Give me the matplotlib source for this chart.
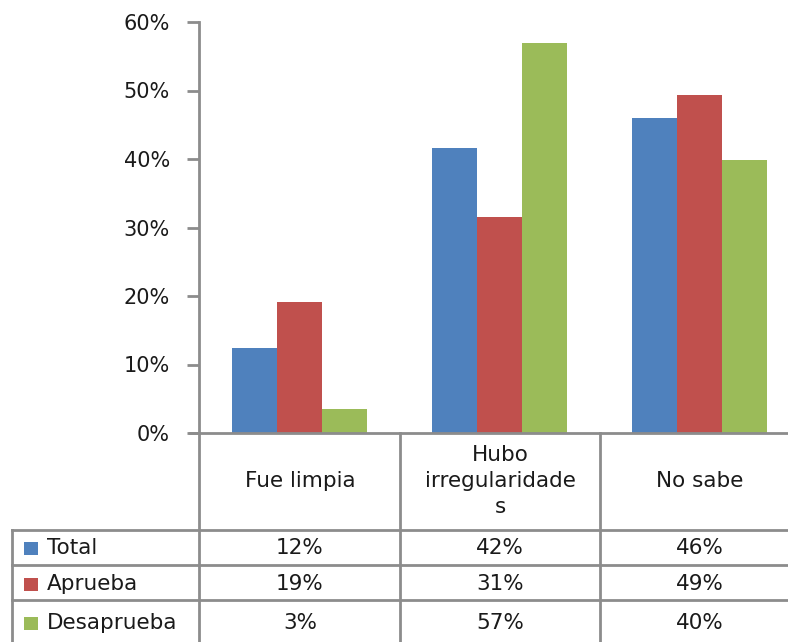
import matplotlib.pyplot as plt
import numpy as np

plt.rcParams['font.family'] = ['DejaVu Sans']

categories = ['Fue limpia', 'Hubo\nirregularidade\ns', 'No sabe']
series = ['Total', 'Aprueba', 'Desaprueba']
total = [0.124, 0.416, 0.460]
aprueba = [0.191, 0.315, 0.493]
desaprueba = [0.035, 0.569, 0.399]
table_labels = [['12%', '42%', '46%'],
                ['19%', '31%', '49%'],
                ['3%', '57%', '40%']]
yticks = [0, 0.1, 0.2, 0.3, 0.4, 0.5, 0.6]

colors = ['#4F81BD', '#C0504D', '#9BBB59']
grey = '#8C8C8C'
txt = '#1a1a1a'
fs = 15.5

W, H = 788, 642
fig = plt.figure(figsize=(W / 100, H / 100), dpi=100)

# pixel helpers
def fx(px):
    return px / W

def fy(py):
    return 1 - py / H

x_left, x_right = 199, 788
y_zero, y_top = 433, 22
cat_w = 200.0

ax = fig.add_axes([fx(x_left), fy(y_zero), fx(x_right - x_left), (y_zero - y_top) / H])
ax.set_xlim(-0.5, -0.5 + (x_right - x_left) / cat_w)
ax.set_ylim(0, 0.6)

x = np.arange(len(categories))
bw = 45 / cat_w
for i, vals in enumerate([total, aprueba, desaprueba]):
    ax.bar(x + (i - 1) * bw, vals, width=bw, color=colors[i], linewidth=0)

for s in ['top', 'right', 'bottom']:
    ax.spines[s].set_visible(False)
ax.spines['left'].set_color(grey)
ax.spines['left'].set_linewidth(2)
ax.set_xticks([])
ax.set_yticks(yticks)
ax.set_yticklabels([f'{int(round(t * 100))}%' for t in yticks], fontsize=15, color=txt)
ax.tick_params(axis='y', length=9, width=2, color=grey, pad=12)

# overlay for data table (pixel coordinates)
ov = fig.add_axes([0, 0, 1, 1])
ov.set_xlim(0, W)
ov.set_ylim(H, 0)
ov.axis('off')

lw = 2
ov.plot([190, W], [y_zero, y_zero], color=grey, lw=lw)
for xv in [199, 400, 600]:
    ov.plot([xv, xv], [y_zero, H], color=grey, lw=lw)
ov.plot([12, 12], [530, H], color=grey, lw=lw)
for yv in [530, 565, 600]:
    ov.plot([12, W], [yv, yv], color=grey, lw=lw)

col_centers = [300, 500, 700]
for j, c in enumerate(categories):
    ov.text(col_centers[j], 481, c, ha='center', va='center', fontsize=fs,
            color=txt, linespacing=1.35)

row_centers = [548, 584, 623]
for i, name in enumerate(series):
    ov.add_patch(plt.Rectangle((24, row_centers[i] - 6), 14, 13, color=colors[i], lw=0))
    ov.text(47, row_centers[i], name, ha='left', va='center', fontsize=fs, color=txt)
    for j in range(len(categories)):
        ov.text(col_centers[j], row_centers[i], table_labels[i][j], ha='center',
                va='center', fontsize=fs, color=txt)

fig.savefig('out.png', dpi=100)
